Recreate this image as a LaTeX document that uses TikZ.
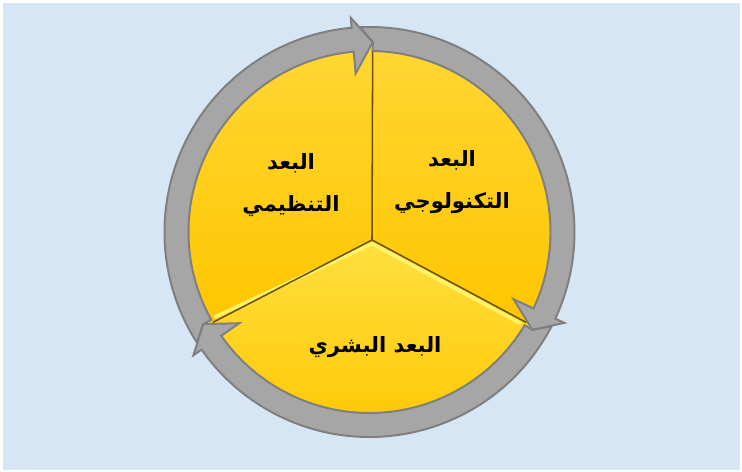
\documentclass[tikz,border=0pt]{standalone}
\usepackage{fontspec}
\newfontfamily\arabicfont[Script=Arabic]{DejaVu Sans}
\TeXXeTstate=1
\definecolor{cbg}{HTML}{D7E6F4}
\definecolor{cgold}{HTML}{FFC600}
\definecolor{clight}{HTML}{FFD633}
\definecolor{cpale}{HTML}{FFE040}
\definecolor{cglow}{HTML}{FFF36A}
\definecolor{cring}{HTML}{A6A6A6}
\definecolor{cedge}{HTML}{7F7F7F}
\definecolor{cspoke}{HTML}{6E5200}
\tikzset{
  sector/.style={top color=#1, bottom color=cgold, draw=none},
  sector/.default=clight,
  ringarrow/.style={fill=cring, draw=cedge, line width=1.4pt, line join=miter},
  spoke/.style={draw=cspoke, line width=1.1pt},
  glow/.style={draw=cglow, line width=2.5pt, line cap=round},
  dimtext/.style={font={\arabicfont\bfseries\fontsize{15}{30}\selectfont}, align=center, text=black},
}
\begin{document}
\begin{tikzpicture}[x=0.025cm, y=0.025cm]
  \useasboundingbox (0,0) rectangle (742,472);
  % background
  \fill[white] (0,0) rectangle (742,472);
  \fill[cbg] (3,2) rectangle (740,469);
  \coordinate (ctr) at (369.5,240);
  \coordinate (hub) at (372,232);
  \begin{scope}[shift={(ctr)}]
    % pie
    \path[sector] (hub) -- (89:184) arc[start angle=89, end angle=-30, radius=184] -- cycle;
    \path[sector=cpale] (hub) -- (-30:184) arc[start angle=-30, end angle=-150, radius=184] -- cycle;
    \path[sector] (hub) -- (210:184) arc[start angle=210, end angle=89, radius=184] -- cycle;
    \draw[glow] (3,-12) -- (-31.2:176);
    \draw[glow] (2,-12) -- (208.8:176);
    \draw[spoke] (hub) -- (89:181);
    \draw[spoke] (hub) -- (-30:181);
    \draw[spoke] (hub) -- (210:181);
    % ring of arrows
    \foreach \s/\e in {210/90, 90/-30, -30/-150} {
      \draw[ringarrow] (\s+2.6:205) arc[start angle=\s+2.6, end angle=\e+5, radius=205]
        -- (\e+5:215) -- (\e-1:190) -- (\e+5:159) -- (\e+5:181)
        arc[start angle=\e+5, end angle=\s-1, radius=181]
        -- (\s-1:190) -- cycle;
    }
  \end{scope}
  % labels
  \node[dimtext] (org) at (291,287) {\beginR البعد\endR\\\beginR التنظيمي\endR};
  \node[dimtext] (tech) at (452,290) {\beginR البعد\endR\\\beginR التكنولوجي\endR};
  \node[dimtext] (human) at (375,125) {\beginR البعد البشري\endR};
\end{tikzpicture}
\end{document}
